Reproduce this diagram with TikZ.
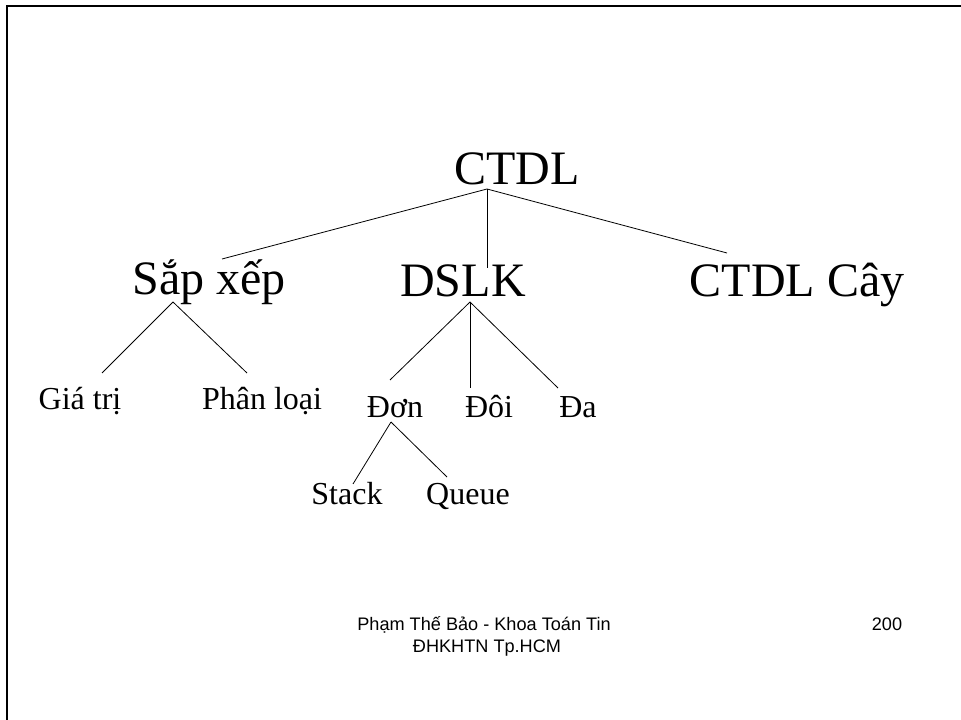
\documentclass[tikz,border=0pt]{standalone}
\usepackage{fontspec}
\setmainfont{Liberation Serif}
\newfontfamily\footfont{Liberation Sans}
\usetikzlibrary{calc}

\tikzset{
    big/.style={font=\fontsize{36}{40}\selectfont, anchor=base, inner sep=0pt},
    small/.style={font=\fontsize{24}{28}\selectfont, anchor=base, inner sep=0pt},
    foot/.style={font=\footfont\fontsize{13.6}{16}\selectfont, anchor=base, inner sep=0pt}
}

\begin{document}
\begin{tikzpicture}[x=0.75pt, y=-0.75pt, line width=0.6pt]
\useasboundingbox (0,0) rectangle (961,720);

% Khung slide
\draw[line width=1.9pt] (7,720) -- (7,6) -- (961,6);

% Goc cay
\node[big] (ctdl) at (517,185) {CTDL};

% Tang 1
\node[big] (sapxep) at (209,295) {Sắp xếp};
\node[big] (dslk) at (463,297) {DSLK};
\node[big] (cay) at (797,297) {CTDL Cây};

% Tang 2
\node[small] (giatri) at (80,410) {Giá trị};
\node[small] (phanloai) at (262,410) {Phân loại};
\node[small] (don) at (395,417) {Đơn};
\node[small] (doi) at (489,417) {Đôi};
\node[small] (da) at (578,417) {Đa};

% Tang 3
\node[small] (stack) at (347,504) {Stack};
\node[small] (queue) at (468,504) {Queue};

% Nhanh tu CTDL
\draw ($(ctdl.base)+(-30,4)$) -- ($(sapxep.base)+(13,-36)$);
\draw ($(ctdl.base)+(-30,4)$) -- ($(dslk.base)+(24,-29)$);
\draw ($(ctdl.base)+(-30,4)$) -- ($(cay.base)+(-70,-44)$);

% Nhanh tu Sap xep
\draw ($(sapxep.base)+(-36,7)$) -- ($(giatri.base)+(22,-37)$);
\draw ($(sapxep.base)+(-36,7)$) -- ($(phanloai.base)+(-15,-37)$);

% Nhanh tu DSLK
\draw ($(dslk.base)+(7,5)$) -- ($(don.base)+(-5,-37)$);
\draw ($(dslk.base)+(7,5)$) -- ($(doi.base)+(-19,-29)$);
\draw ($(dslk.base)+(7,5)$) -- ($(da.base)+(-20,-29)$);

% Nhanh tu Don
\draw ($(don.base)+(-4,5)$) -- ($(stack.base)+(6,-20)$);
\draw ($(don.base)+(-4,5)$) -- ($(queue.base)+(-21,-27)$);

% Chan trang
\node[foot] (tacgia) at (484,630) {Phạm Thế Bảo - Khoa Toán Tin};
\node[foot] (truong) at (487,652) {ĐHKHTN Tp.HCM};
\node[foot] (trang) at (887,630) {200};

\end{tikzpicture}
\end{document}
